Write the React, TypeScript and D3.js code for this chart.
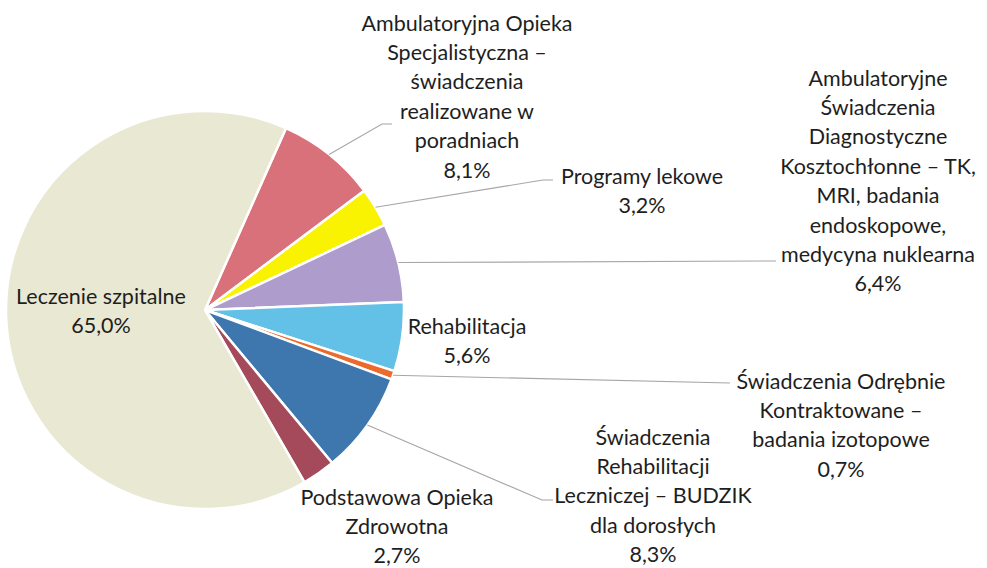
import * as d3 from "d3";

// slice order follows the chart clockwise, starting from the pink slice
const categories = [
  "Ambulatoryjna Opieka\nSpecjalistyczna –\nświadczenia\nrealizowane w\nporadniach",
  "Programy lekowe",
  "Ambulatoryjne\nŚwiadczenia\nDiagnostyczne\nKosztochłonne – TK,\nMRI, badania\nendoskopowe,\nmedycyna nuklearna",
  "Rehabilitacja",
  "Świadczenia Odrębnie\nKontraktowane –\nbadania izotopowe",
  "Świadczenia\nRehabilitacji\nLeczniczej – BUDZIK\ndla dorosłych",
  "Podstawowa Opieka\nZdrowotna",
  "Leczenie szpitalne",
];
const values = [8.1, 3.2, 6.4, 5.6, 0.7, 8.3, 2.7, 65.0];
const valueLabels = ["8,1%", "3,2%", "6,4%", "5,6%", "0,7%", "8,3%", "2,7%", "65,0%"];
const colors = ["#d9717a", "#f9f200", "#ae9dcc", "#63c0e6", "#ec6a2c", "#3e77ae", "#a54a5b", "#e9e8d2"];

// label layout: centre x, first line y
const labelPos: [number, number][] = [
  [467, 23],
  [642, 176],
  [878, 78],
  [467, 326],
  [841, 381],
  [653, 437],
  [397, 497],
  [101, 296],
];
// leader line elbows (null = no leader)
const leaderPts: ([number, number][] | null)[] = [
  [[382, 124], [392, 124]],
  [[543, 180], [553, 180]],
  [[776, 261]],
  null,
  [[730, 383]],
  [[542, 500], [553, 500]],
  null,
  null,
];

const W = 987;
const H = 568;
const cx = 205;
const cy = 310;
const R = 199;
const lineH = 29.4;

export default function App() {
  const pie = d3
    .pie<number>()
    .sort(null)
    .value((d) => d)
    .startAngle((24 * Math.PI) / 180)
    .endAngle((24 * Math.PI) / 180 + 2 * Math.PI);
  const arcs = pie(values);
  const arc = d3.arc<d3.PieArcDatum<number>>().innerRadius(0).outerRadius(R);

  return (
    <svg
      width={W}
      height={H}
      style={{ position: "absolute", left: 0, top: 0, background: "#fff" }}
      fontFamily="Lato, 'Open Sans', sans-serif"
      fontSize={21.5}
    >
      <g transform={`translate(${cx},${cy})`}>
        {arcs.map((a, i) => (
          <path key={i} d={arc(a) || ""} fill={colors[i]} stroke="#fff" strokeWidth={2.5} strokeLinejoin="round" />
        ))}
      </g>
      {arcs.map((a, i) => {
        const pts = leaderPts[i];
        if (!pts) return null;
        const mid = (a.startAngle + a.endAngle) / 2;
        const sx = cx + R * Math.sin(mid);
        const sy = cy - R * Math.cos(mid);
        const line = d3.line()([[sx, sy], ...pts]);
        return <path key={i} d={line || ""} fill="none" stroke="#a6a6a6" strokeWidth={1.1} />;
      })}
      {categories.map((c, i) => {
        const lines = [...c.split("\n"), valueLabels[i]];
        const [x, y] = labelPos[i];
        return (
          <text key={i} textAnchor="middle" fill="#1e1e1e">
            {lines.map((l, j) => (
              <tspan key={j} x={x} y={y + j * lineH} dy="0.35em">
                {l}
              </tspan>
            ))}
          </text>
        );
      })}
    </svg>
  );
}
